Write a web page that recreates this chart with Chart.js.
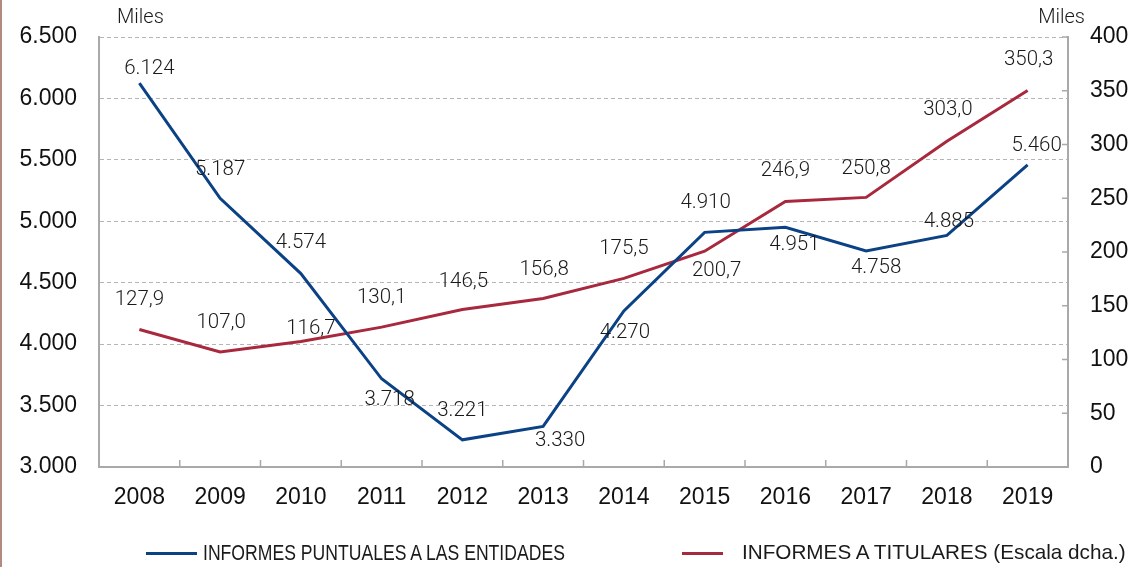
<!DOCTYPE html>
<html>
<head>
<meta charset="utf-8">
<script src="https://cdn.jsdelivr.net/npm/chart.js@4.4.0/dist/chart.umd.min.js"></script>
<style>
    html, body { margin: 0; padding: 0; background: #fff; }
    #wrap { position: relative; width: 1132px; height: 567px; overflow: hidden; }
    #edge { position: absolute; left: 0; top: 0; width: 2px; height: 567px; background: #b38a7f; }
    .swatch { position: absolute; top: 552px; height: 3px; }
    .legtext { position: absolute; top: 540px; line-height: 26px; color: #1a1a1a; white-space: nowrap; }
    #leg1 { left: 203px; font: 22px 'Liberation Sans', Arial, sans-serif; transform: scaleX(0.8); transform-origin: left center; }
    #leg2 { left: 742px; font: 20.7px 'Liberation Sans', Arial, sans-serif; }
</style>
</head>
<body>
<div id="wrap">
    <canvas id="chart" width="1132" height="567"></canvas>
    <div id="edge"></div>
    <div class="swatch" style="left:146px; width:51px; background:#0b4286;"></div>
    <div class="legtext" id="leg1">INFORMES PUNTUALES A LAS ENTIDADES</div>
    <div class="swatch" style="left:682px; width:41px; background:#a8283d;"></div>
    <div class="legtext" id="leg2">INFORMES A TITULARES (Escala dcha.)</div>
</div>
<script>
const years = ['2008', '2009', '2010', '2011', '2012', '2013', '2014', '2015', '2016', '2017', '2018', '2019'];
// miles de informes
const puntuales = [6124, 5187, 4574, 3718, 3221, 3330, 4270, 4910, 4951, 4758, 4885, 5460];
const titulares = [127.9, 107.0, 116.7, 130.1, 146.5, 156.8, 175.5, 200.7, 246.9, 250.8, 303.0, 350.3];

// label placement (px from the point)
const blueOff = [[10, -14], [0, -28], [0, -31], [8, 21], [0, -29], [17, 14], [1, 22], [1, -29], [9, 18], [10, 17], [2, -14], [9, -19]];
const redOff = [[0, -30], [1, -29], [10, -13], [0, -29], [1, -28], [1, -29], [0, -29], [12, 20], [0, -31], [0, -29], [1, -31], [1, -31]];

const BLUE = '#0b4286';
const RED = '#a8283d';
const AXIS = '#a9a9a9';

function miles(v) { return String(v).replace(/\B(?=(\d{3})+(?!\d))/g, '.'); }
function dec(v) { return v.toFixed(1).replace('.', ','); }

const tickFont = { family: "'Liberation Sans', Arial, sans-serif", size: 23 };
const labelFont = "300 20.5px Roboto, 'Liberation Sans', sans-serif";

// value labels + inner tick marks + "Miles"
const extras = {
    id: 'extras',
    afterDraw(chart) {
        const ctx = chart.ctx;
        const area = chart.chartArea;
        const x = chart.scales.x;
        const y1 = chart.scales.y1;

        ctx.save();
        ctx.strokeStyle = AXIS;
        ctx.lineWidth = 1.5;
        ctx.beginPath();
        for (let i = 0; i < years.length - 1; i++) {
            const bx = (x.getPixelForValue(i) + x.getPixelForValue(i + 1)) / 2;
            ctx.moveTo(bx, area.bottom);
            ctx.lineTo(bx, area.bottom - 7);
        }
        y1.ticks.forEach(t => {
            const ty = y1.getPixelForValue(t.value);
            ctx.moveTo(area.right, ty);
            ctx.lineTo(area.right - 6, ty);
        });
        ctx.stroke();

        ctx.fillStyle = '#1a1a1a';
        ctx.font = labelFont;
        ctx.textAlign = 'center';
        ctx.textBaseline = 'middle';
        const sets = [[0, blueOff, miles], [1, redOff, dec]];
        sets.forEach(([di, off, fmt]) => {
            const meta = chart.getDatasetMeta(di);
            const vals = chart.data.datasets[di].data;
            meta.data.forEach((pt, i) => {
                ctx.fillText(fmt(vals[i]), pt.x + off[i][0], pt.y + off[i][1]);
            });
        });

        ctx.font = "300 20px Roboto, 'Liberation Sans', sans-serif";
        ctx.textAlign = 'left';
        ctx.fillText('Miles', area.left + 18, 18);
        ctx.textAlign = 'right';
        ctx.fillText('Miles', area.right + 17, 18);
        ctx.restore();
    }
};

new Chart(document.getElementById('chart'), {
    type: 'line',
    data: {
        labels: years,
        datasets: [
            {
                label: 'INFORMES PUNTUALES A LAS ENTIDADES',
                data: puntuales,
                borderColor: BLUE,
                borderWidth: 3,
                pointRadius: 0,
                tension: 0,
                yAxisID: 'y'
            },
            {
                label: 'INFORMES A TITULARES (Escala dcha.)',
                data: titulares,
                borderColor: RED,
                borderWidth: 3,
                pointRadius: 0,
                tension: 0,
                yAxisID: 'y1'
            }
        ]
    },
    options: {
        responsive: false,
        animation: false,
        layout: { padding: { top: 37, bottom: 55, left: 0, right: 0 } },
        plugins: {
            legend: { display: false },
            tooltip: { enabled: false }
        },
        scales: {
            x: {
                offset: true,
                grid: { drawOnChartArea: false, drawTicks: false },
                border: { color: AXIS, width: 2 },
                ticks: { color: '#111', font: tickFont, padding: 17, maxRotation: 0 },
                afterFit(scale) { scale.height = 45; }
            },
            y: {
                position: 'left',
                min: 3000,
                max: 6500,
                ticks: { stepSize: 500, color: '#111', font: tickFont, padding: 22, callback: v => miles(v) },
                grid: { color: '#b5b5b5', lineWidth: 1, drawTicks: false },
                border: { color: AXIS, width: 2, dash: [4, 3] },
                afterFit(scale) { scale.width = 99; }
            },
            y1: {
                position: 'right',
                min: 0,
                max: 400,
                ticks: { stepSize: 50, color: '#111', font: tickFont, padding: 22 },
                grid: { drawOnChartArea: false, drawTicks: false },
                border: { color: AXIS, width: 2 },
                afterFit(scale) { scale.width = 64; }
            }
        }
    },
    plugins: [extras]
});
</script>
</body>
</html>
